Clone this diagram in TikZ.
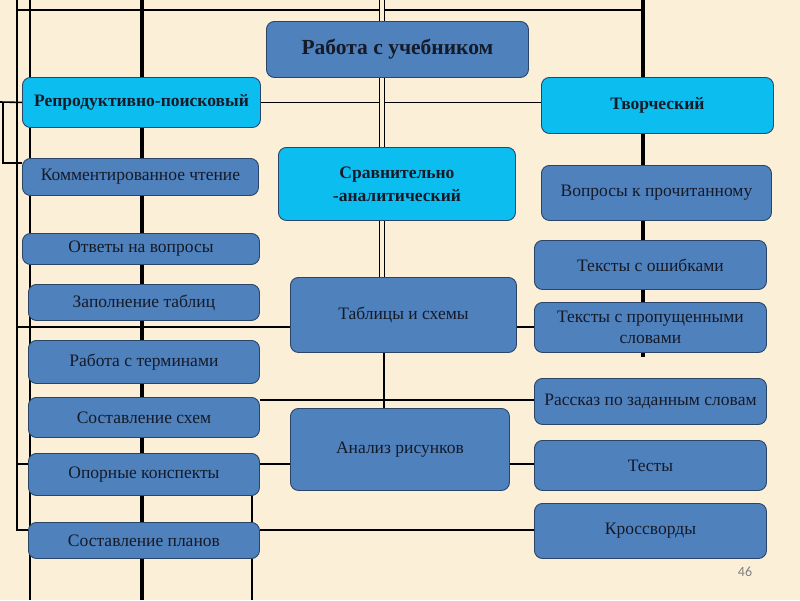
\documentclass[tikz,border=0pt]{standalone}
\usepackage{fontspec}
\setmainfont{Liberation Serif}
\newfontfamily\numfont{Carlito}
\definecolor{bgc}{HTML}{FBF0D7}
\definecolor{boxblue}{HTML}{4F81BD}
\definecolor{boxcyan}{HTML}{0CBEF0}
\definecolor{boxedge}{HTML}{2A4568}
\definecolor{txt}{HTML}{151A28}
\pgfdeclarelayer{back}
\pgfdeclarelayer{lines}
\pgfsetlayers{back,lines,main}
\newcommand\bx[7]{\node[#6, anchor=north west, minimum width={(#4-#2)*1pt}, minimum height={(#5-#3)*1pt}] (#1) at (#2,#3) {#7};}
\begin{document}
\begin{tikzpicture}[x=1pt,y=-1pt,
  box/.style={draw=boxedge, line width=0.9pt, fill=boxblue, rounded corners=8pt, align=center, inner sep=0pt, text=txt, font=\fontsize{17.5}{21}\selectfont},
  headbox/.style={box, fill=boxcyan, font=\bfseries\fontsize{17.5}{23}\selectfont},
  topbox/.style={box, font=\bfseries\fontsize{21.5}{25}\selectfont},
  ln/.style={line width=1.6pt, black},
  lnthin/.style={line width=1.3pt, black},
  lnmid/.style={line width=2.8pt, black},
  lnthick/.style={line width=3.2pt, black},
  lnheavy/.style={line width=4.5pt, black},
  dbl/.style={line width=1.4pt, black, double=bgc, double distance=4pt},
]
\useasboundingbox (0,0) rectangle (800,600);
% boxes
\bx{rabota}{266}{21}{528}{77}{topbox}{Работа с учебником}
\bx{repr}{22}{77}{260}{127}{headbox}{Репродуктивно-поисковый}
\bx{tvor}{541}{77}{773}{133}{headbox}{Творческий}
\bx{komm}{22}{158}{258}{195}{box}{Комментированное чтение}
\bx{sravn}{278}{147}{515}{220}{headbox}{Сравнительно\\-аналитический}
\bx{vopr}{541}{165}{771}{220}{box}{Вопросы к прочитанному}
\bx{otv}{22}{233}{259}{264}{box}{Ответы на вопросы}
\bx{zap}{28}{284}{259}{320}{box}{Заполнение таблиц}
\bx{osh}{534}{240}{766}{289}{box}{Тексты с ошибками}
\bx{tabl}{290}{277}{516}{352}{box}{Таблицы и схемы}
\bx{prop}{534}{302}{766}{352}{box}{Тексты с пропущенными\\словами}
\bx{term}{28}{340}{259}{383}{box}{Работа с терминами}
\bx{rass}{534}{378}{766}{424}{box}{Рассказ по заданным словам}
\bx{sxem}{28}{397}{259}{437}{box}{Составление схем}
\bx{analiz}{290}{408}{509}{490}{box}{Анализ рисунков}
\bx{opor}{28}{453}{259}{495}{box}{Опорные конспекты}
\bx{testy}{534}{440}{766}{490}{box}{Тесты}
\bx{plan}{28}{522}{259}{558}{box}{Составление планов}
\bx{kross}{534}{503}{766}{558}{box}{Кроссворды}
\node[font=\numfont\fontsize{14}{16}\selectfont, text=gray] (num) at (745,572) {46};
% background
\begin{pgfonlayer}{back}
\fill[bgc] (0,0) rectangle (800,600);
\end{pgfonlayer}
% connectors
\begin{pgfonlayer}{lines}
\draw[ln] (17,10) -- (643,10);
\draw[lnthin] (17,0) -- (17,530) -- (17,530 -| plan.west);
\draw[lnthin] (17,464) -- (17,464 -| opor.west);
\draw[lnmid] (30,0) -- (30,600);
\draw[lnthick] (142,0) -- (142,600);
\draw[ln] (252,464) -- (252,600);
\draw[ln] (0,102) -- (repr.west);
\draw[ln] (3,102) -- (3,163) -- (3,163 -| komm.west);
\draw[ln] (repr.east) -- (repr.east -| tvor.west);
\draw[dbl] (382,0) -- (382,0 |- rabota.north);
\draw[dbl] (382,0 |- rabota.south) -- (382,0 |- sravn.north);
\draw[dbl] (382,0 |- sravn.south) -- (382,0 |- tabl.north);
\draw[ln] (384,0 |- tabl.south) -- (384,0 |- analiz.north);
\draw[ln] (17,327) -- (17,327 -| tabl.west);
\draw[ln] (tabl.east |- 0,327) -- (prop.west |- 0,327);
\draw[ln] (sxem.east |- 0,400) -- (rass.west |- 0,400);
\draw[ln] (opor.east |- 0,464) -- (analiz.west |- 0,464);
\draw[ln] (analiz.east |- 0,464) -- (testy.west |- 0,464);
\draw[ln] (plan.east |- 0,530) -- (kross.west |- 0,530);
\draw[lnheavy] (643,0) -- (643,0 |- tvor.north);
\draw[lnheavy] (643,0 |- tvor.south) -- (643,0 |- vopr.north);
\draw[lnheavy] (643,0 |- vopr.south) -- (643,0 |- osh.north);
\draw[lnthick] (643,0 |- osh.south) -- (643,0 |- prop.north);
\draw[lnthick] (643,0 |- prop.south) -- ++(0,4);
\end{pgfonlayer}
\end{tikzpicture}
\end{document}
